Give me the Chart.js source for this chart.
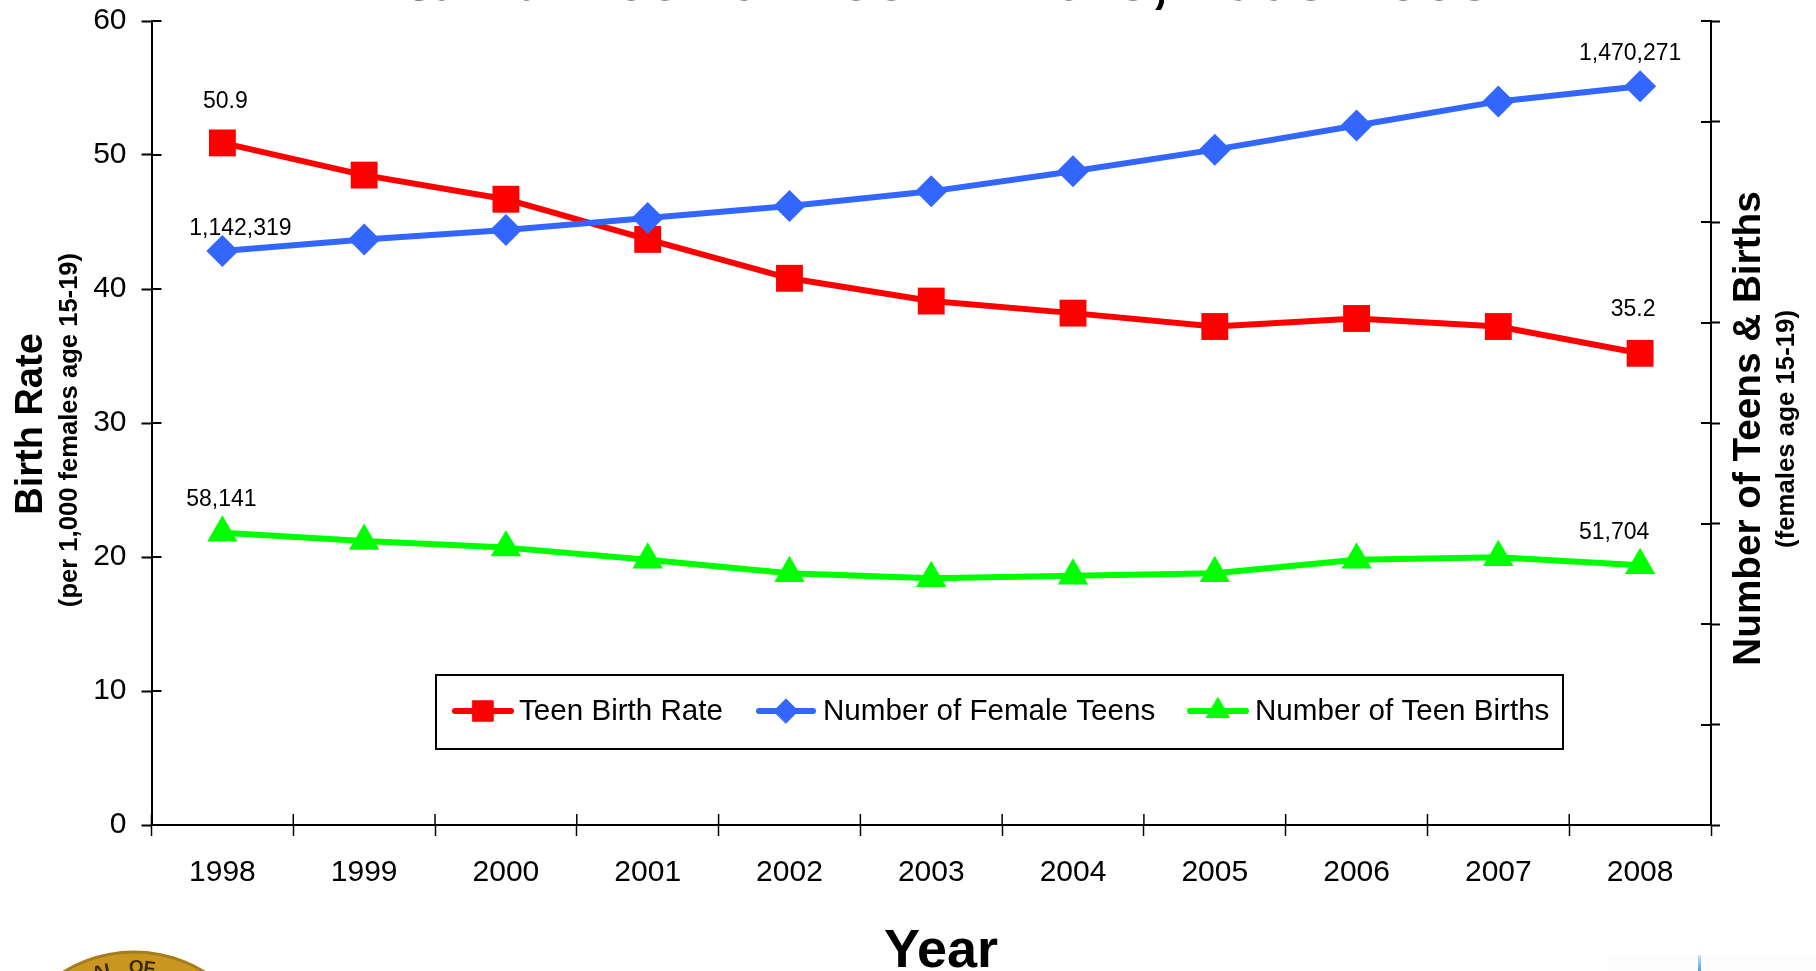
<!DOCTYPE html>
<html><head><meta charset="utf-8">
<style>html,body{margin:0;padding:0;background:#fff;overflow:hidden}canvas{display:block}</style>
<script src="https://cdn.jsdelivr.net/npm/chart.js@4"></script>
</head><body><canvas id="c" width="1816" height="971"></canvas>
<script>
const years = ['1998','1999','2000','2001','2002','2003','2004','2005','2006','2007','2008'];
const teenBirthRate = [50.9,48.5,46.7,43.7,40.8,39.1,38.2,37.2,37.8,37.2,35.2];
const femaleTeens = [1142319,1165000,1184000,1208000,1232000,1261000,1301000,1344000,1392000,1440000,1470271];
const teenBirths = [58141,56500,55200,52800,50100,49100,49600,50100,52800,53300,51704];
const FONT = '"Liberation Sans", Arial, sans-serif';
const RED='#FF0000', BLUE='#3366FF', GREEN='#00FF00';

const pointLabels = [
  {ds:0,i:0,text:'50.9',dx:3,dy:-41},{ds:0,i:10,text:'35.2',dx:-7,dy:-44},
  {ds:1,i:0,text:'1,142,319',dx:18,dy:-22},{ds:1,i:10,text:'1,470,271',dx:-10,dy:-33},
  {ds:2,i:0,text:'58,141',dx:-1,dy:-33},{ds:2,i:10,text:'51,704',dx:-26,dy:-33}
];
const legendEntries = [
  {ds:0,x0:455,x1:511,tx:519},{ds:1,x0:759,x1:813,tx:823},{ds:2,x0:1190,x1:1246,tx:1255}
];

function txt(ctx,s,x,y,font,rot){
  ctx.save();ctx.translate(x,y);if(rot)ctx.rotate(rot);
  ctx.font=font;ctx.fillStyle='#000';ctx.textAlign='center';ctx.textBaseline='middle';
  ctx.fillText(s,0,0);ctx.restore();
}
function noPad(s){s.paddingTop=0;s.paddingBottom=0;}
const decor = {
  id:'decor',
  beforeDraw(chart){
    const ctx=chart.ctx;ctx.save();
    // seal, cut by the bottom edge
    ctx.beginPath();ctx.arc(134,1086,134,0,Math.PI*2);ctx.fillStyle='#C9971F';ctx.fill();
    ctx.lineWidth=3;ctx.strokeStyle='#A67C1A';ctx.stroke();
    ctx.fillStyle='#3a2a08';ctx.font='bold 19px '+FONT;ctx.textAlign='center';ctx.textBaseline='middle';
    [['A',-0.30],['L',-0.20],['O',0.02],['F',0.13]].forEach(([c,a])=>{
      ctx.save();ctx.translate(134+Math.sin(a)*118,1086-Math.cos(a)*118);ctx.rotate(a);ctx.fillText(c,0,0);ctx.restore();
    });
    // logo fragment at lower right
    ctx.fillStyle='#FDFDFD';ctx.fillRect(1607,955,209,16);
    const g=ctx.createLinearGradient(0,955,0,971);g.addColorStop(0,'#CFE6F8');g.addColorStop(1,'#4A9FE0');
    ctx.fillStyle=g;ctx.fillRect(1698,955,3,16);
    ctx.restore();
  },
  afterDraw(chart){
    const ctx=chart.ctx, a=chart.chartArea;
    const x=chart.scales.x, yL=chart.scales.y, yR=chart.scales.y1;
    ctx.save();
    // inner half of the crossing tick marks
    ctx.strokeStyle='#000';ctx.lineWidth=2;ctx.beginPath();
    yL.ticks.forEach(t=>{const p=Math.round(yL.getPixelForValue(t.value));ctx.moveTo(a.left,p);ctx.lineTo(a.left+10,p);});
    yR.ticks.forEach(t=>{const p=Math.round(yR.getPixelForValue(t.value));ctx.moveTo(a.right-10,p);ctx.lineTo(a.right,p);});
    ctx.stroke();
    ctx.lineWidth=1.5;ctx.beginPath();
    const step=x.getPixelForValue(1)-x.getPixelForValue(0);
    for(let i=0;i<=years.length;i++){const p=x.getPixelForValue(0)+(i-0.5)*step;ctx.moveTo(p,a.bottom-11);ctx.lineTo(p,a.bottom);}
    ctx.stroke();
    // point labels
    pointLabels.forEach(l=>{
      const pt=chart.getDatasetMeta(l.ds).data[l.i];
      txt(ctx,l.text,pt.x+l.dx,pt.y+l.dy,'23px '+FONT);
    });
    // titles
    txt(ctx,'& Number of Teen Births, 1998-2008',947,-18,'bold 64px '+FONT);
    txt(ctx,'Birth Rate',32,424,'bold 38px '+FONT,-Math.PI/2);
    txt(ctx,'(per 1,000 females age 15-19)',70,430,'bold 25.6px '+FONT,-Math.PI/2);
    txt(ctx,'Number of Teens & Births',1749,428.5,'bold 38.7px '+FONT,-Math.PI/2);
    txt(ctx,'(females age 15-19)',1787,429,'bold 25.8px '+FONT,-Math.PI/2);
    txt(ctx,'Year',941,952,'bold 54px '+FONT);
    // legend
    ctx.fillStyle='#fff';ctx.fillRect(436,675,1127,74);
    ctx.strokeStyle='#000';ctx.lineWidth=2;ctx.strokeRect(436,675,1127,74);
    legendEntries.forEach(e=>{
      const d=chart.data.datasets[e.ds], cy=711;
      ctx.strokeStyle=d.borderColor;ctx.lineWidth=6;ctx.lineCap='round';
      ctx.beginPath();ctx.moveTo(e.x0,cy);ctx.lineTo(e.x1,cy);ctx.stroke();
      ctx.fillStyle=d.backgroundColor;ctx.strokeStyle=d.borderColor;ctx.lineWidth=1;
      Chart.helpers.drawPoint(ctx,{pointStyle:d.pointStyle,radius:d.pointRadius*0.76,borderWidth:1,rotation:0},(e.x0+e.x1)/2,cy);
      ctx.fillStyle='#000';ctx.font='29.6px '+FONT;ctx.textAlign='left';ctx.textBaseline='middle';
      ctx.fillText(d.label,e.tx,cy+1);
    });
    ctx.restore();
  }
};
const line=(label,data,color,style,r,yAxisID,order)=>({label,data,yAxisID,order,borderColor:color,backgroundColor:color,
  borderWidth:6,pointStyle:style,pointRadius:r,pointHoverRadius:r,pointBorderWidth:0,tension:0,borderJoinStyle:'round',clip:false});
new Chart(document.getElementById('c'),{
  type:'line',
  data:{labels:years,datasets:[
    line('Teen Birth Rate',teenBirthRate,RED,'rect',19,'y',3),
    line('Number of Female Teens',femaleTeens,BLUE,'rectRot',16,'y1',2),
    line('Number of Teen Births',teenBirths,GREEN,'triangle',17.5,'y2',1)
  ]},
  plugins:[decor],
  options:{
    responsive:false,animation:false,devicePixelRatio:1,
    layout:{padding:{top:21,left:0,right:0,bottom:0}},
    plugins:{legend:{display:false},title:{display:false},tooltip:{enabled:false}},
    scales:{
      x:{offset:true,border:{color:'#000',width:2},
        grid:{offset:true,drawOnChartArea:false,color:'#000',tickColor:'#000',tickLength:11,tickWidth:1.5},
        ticks:{color:'#000',font:{family:FONT,size:30},padding:19,maxRotation:0,autoSkip:false},
        afterFit(s){s.height=146;s.paddingLeft=0;s.paddingRight=0;}},
      y:{position:'left',min:0,max:60,border:{color:'#000',width:2},
        grid:{drawOnChartArea:false,tickColor:'#000',tickLength:10,tickWidth:2},
        ticks:{stepSize:10,color:'#000',font:{family:FONT,size:30},padding:15},
        afterFit(s){s.width=151.5;noPad(s);}},
      y1:{position:'right',min:0,max:1600000,border:{color:'#000',width:2},
        grid:{drawOnChartArea:false,tickColor:'#000',tickLength:9,tickWidth:2},
        ticks:{stepSize:200000,display:false},
        afterFit(s){s.width=105;noPad(s);}},
      y2:{display:false,position:'right',min:0,max:160000}
    }
  }
});
</script></body></html>
